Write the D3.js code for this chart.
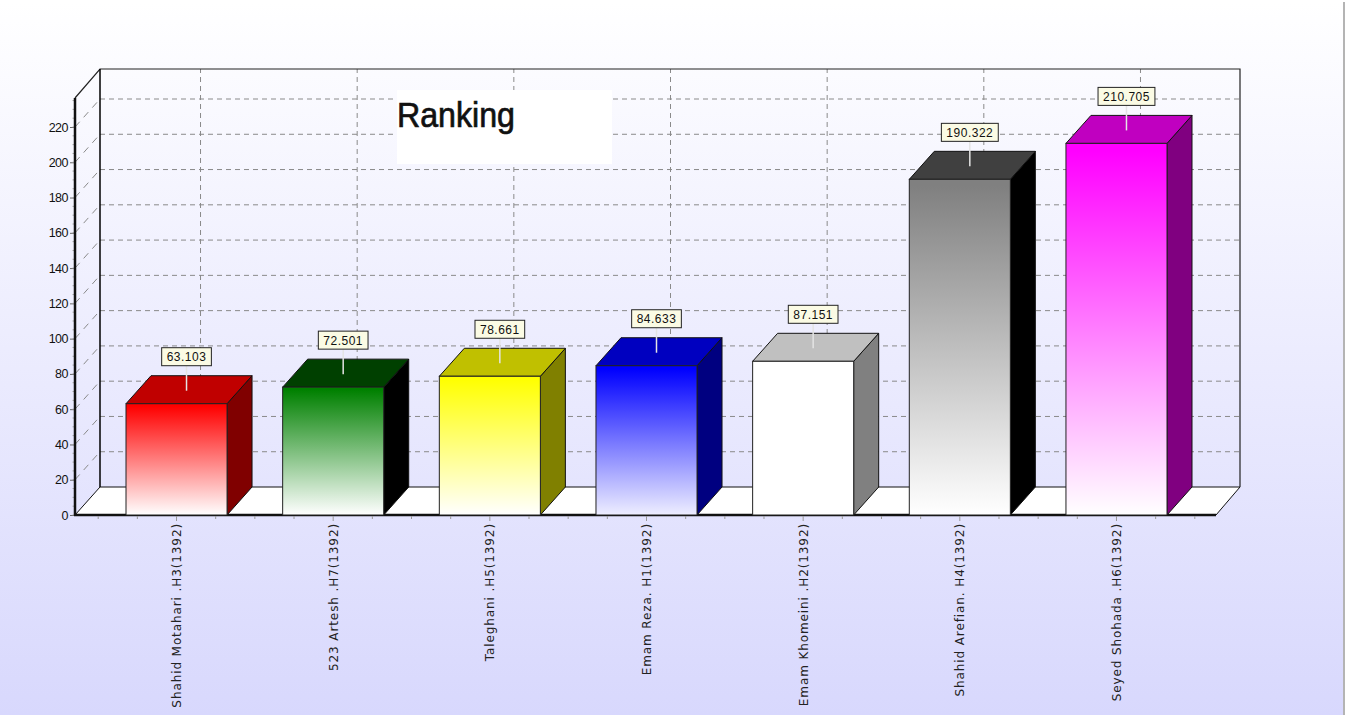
<!DOCTYPE html>
<html><head><meta charset="utf-8">
<script src="https://cdn.jsdelivr.net/npm/d3@7"></script>
<style>html,body{margin:0;padding:0;background:#fff;overflow:hidden}svg{display:block}</style>
</head><body><svg id="c" width="1348" height="715"></svg>
<script>
const categories=["Shahid Motahari .H3(1392)","523 Artesh .H7(1392)","Taleghani .H5(1392)","Emam Reza. H1(1392)","Emam Khomeini .H2(1392)","Shahid Arefian. H4(1392)","Seyed Shohada .H6(1392)"];
const values=[63.103,72.501,78.661,84.633,87.151,190.322,210.705];
const valueLabels=["63.103","72.501","78.661","84.633","87.151","190.322","210.705"];
const frontColors=["#ff0000","#008000","#ffff00","#0000ff","#ffffff","#808080","#ff00ff"];
const endColors=["#ffffff","#ffffff","#ffffff","#eeeeff","#ffffff","#ffffff","#ffffff"];
const topColors=["#c00000","#004000","#c0c000","#0000c0","#c0c0c0","#404040","#c000c0"];
const sideColors=["#800000","#000000","#808000","#000080","#808080","#000000","#800080"];
const yTicks=d3.range(0,221,20);
const yMinor=d3.range(0,236,5);
const titleText="Ranking";

const DX=25,DY=-28,L=75,R=1216,B=515,T=98;
const svg=d3.select("#c");
const y=d3.scaleLinear().domain([0,220]).range([B,127]);
const x=d3.scaleBand().domain(categories).range([126,1167]).paddingInner(0.355).paddingOuter(0);
const defs=svg.append("defs");
const bg=defs.append("linearGradient").attr("id","bg").attr("x1",0).attr("y1",0).attr("x2",0).attr("y2",1);
bg.append("stop").attr("offset",0).attr("stop-color","#ffffff");
bg.append("stop").attr("offset",1).attr("stop-color","#d8d8fd");
categories.forEach((c,i)=>{
  const g=defs.append("linearGradient").attr("id","b"+i).attr("x1",0).attr("y1",0).attr("x2",0).attr("y2",1);
  g.append("stop").attr("offset",0.02).attr("stop-color",frontColors[i]);
  g.append("stop").attr("offset",1).attr("stop-color",endColors[i]);
});
svg.append("rect").attr("x",0).attr("y",2).attr("width",1343).attr("height",713).attr("fill","url(#bg)");
svg.append("line").attr("x1",1344).attr("x2",1344).attr("y1",2).attr("y2",715).attr("stroke","#b4b4b4").attr("stroke-width",2);

const dash="5 4",gc="#8a8a8a";
// back wall grid
svg.append("g").selectAll("line").data(yTicks.filter(d=>d>0)).join("line")
 .attr("x1",L+DX).attr("x2",R+DX).attr("y1",d=>y(d)+DY).attr("y2",d=>y(d)+DY)
 .attr("stroke",gc).attr("stroke-dasharray",dash);
svg.append("g").selectAll("line").data(categories).join("line")
 .attr("x1",d=>x(d)+x.bandwidth()/2+DX-1).attr("x2",d=>x(d)+x.bandwidth()/2+DX-1)
 .attr("y1",B+DY).attr("y2",69).attr("stroke",gc).attr("stroke-dasharray",dash);
// left wall grid
svg.append("g").selectAll("line").data(yTicks.filter(d=>d>0)).join("line")
 .attr("x1",L).attr("x2",L+DX).attr("y1",d=>y(d)).attr("y2",d=>y(d)+DY)
 .attr("stroke",gc).attr("stroke-dasharray","7 6");
// floor
svg.append("polygon").attr("points",[[L,B],[L+DX,B+DY],[R+DX-1,B+DY],[R,B]].join(" ")).attr("fill","#fff").attr("stroke","#111").attr("stroke-width",1);
// walls
svg.append("path").attr("d",`M${L},${T}L${L+DX},69H${R+24}V${B+DY}`).attr("fill","none").attr("stroke","#222").attr("stroke-width",1.2);
svg.append("line").attr("x1",L+DX).attr("x2",L+DX).attr("y1",69).attr("y2",B+DY).attr("stroke","#000").attr("stroke-width",1.5);
// title box
svg.append("rect").attr("x",397).attr("y",90).attr("width",215).attr("height",74).attr("fill","#fff");
svg.append("text").attr("x",397).attr("y",127).attr("font-family","'Liberation Sans',Arial,sans-serif").attr("font-size",35)
 .attr("textLength",118).attr("lengthAdjust","spacingAndGlyphs").attr("fill","#111").attr("stroke","#111").attr("stroke-width",0.7).text(titleText);

// y axis
const yAxis=d3.axisLeft(y).tickValues(yTicks).tickSize(5).tickPadding(2).tickFormat(d3.format("d"));
const ya=svg.append("g").attr("transform",`translate(${L},0)`).call(yAxis);
ya.select(".domain").remove();
ya.selectAll("line").attr("stroke","#666");
ya.selectAll("text").attr("font-family","'Liberation Sans',Arial,sans-serif").attr("font-size",12.5).attr("fill","#111").attr("letter-spacing","-0.5");
svg.append("g").selectAll("line").data(yMinor).join("line").attr("x1",L-2.5).attr("x2",L).attr("y1",d=>y(d)).attr("y2",d=>y(d)).attr("stroke","#aaa");
svg.append("line").attr("x1",L).attr("x2",L).attr("y1",T).attr("y2",B+1).attr("stroke","#111").attr("stroke-width",2.5);
svg.append("line").attr("x1",L-1).attr("x2",R).attr("y1",B).attr("y2",B).attr("stroke","#111").attr("stroke-width",2.5);

// x ticks
const step=x.step(),tks=[];
categories.forEach(c=>{const m=x(c)+x.bandwidth()/2;[-2,-1,0,1].forEach(k=>tks.push({p:m+k*step/4,major:k===0}));});
tks.push({p:x(categories[6])+x.bandwidth()/2+step/2,major:false});
svg.append("g").selectAll("line").data(tks).join("line").attr("x1",d=>d.p).attr("x2",d=>d.p)
 .attr("y1",B+1).attr("y2",d=>B+(d.major?6:4)).attr("stroke","#999");

// bars
const bars=svg.append("g").selectAll("g").data(categories).join("g");
bars.append("polygon").attr("points",(c,i)=>{const a=x(c),b=a+x.bandwidth(),t=y(values[i]);return [[b,t],[b+DX,t+DY],[b+DX,B+DY],[b,B]].join(" ");})
 .attr("fill",(c,i)=>sideColors[i]).attr("stroke","#111").attr("stroke-width",1);
bars.append("polygon").attr("points",(c,i)=>{const a=x(c),b=a+x.bandwidth(),t=y(values[i]);return [[a,t],[a+DX,t+DY],[b+DX,t+DY],[b,t]].join(" ");})
 .attr("fill",(c,i)=>topColors[i]).attr("stroke","#111").attr("stroke-width",1);
bars.append("rect").attr("x",c=>x(c)).attr("y",(c,i)=>y(values[i])).attr("width",x.bandwidth()).attr("height",(c,i)=>B-y(values[i]))
 .attr("fill",(c,i)=>`url(#b${i})`).attr("stroke","#222").attr("stroke-width",1);
// value labels
bars.each(function(c,i){
  const g=d3.select(this),cx=x(c)+x.bandwidth()/2+10,yb=y(values[i])-13;
  g.append("line").attr("x1",cx).attr("x2",cx).attr("y1",yb).attr("y2",yb-26).attr("stroke","#e4e4e4").attr("stroke-width",1.5);
  const r=g.append("rect").attr("y",yb-43).attr("height",18).attr("fill","#fbfbe4").attr("stroke","#222");
  const t=g.append("text").attr("x",cx).attr("y",yb-29.5).attr("text-anchor","middle")
    .attr("font-family","'Liberation Sans',Arial,sans-serif").attr("font-size",12).attr("letter-spacing","0.5").attr("fill","#111").text(valueLabels[i]);
  const w=t.node().getComputedTextLength()+10;
  r.attr("x",cx-w/2).attr("width",w);
});
// category labels
svg.append("g").selectAll("text").data(categories).join("text")
 .attr("transform",c=>`translate(${x(c)+x.bandwidth()/2+4.5},523) rotate(-90)`)
 .attr("text-anchor","end").attr("font-family","'DejaVu Sans',Verdana,sans-serif").attr("font-size",12).attr("letter-spacing","0.9").attr("fill","#222").text(c=>c);
</script></body></html>
